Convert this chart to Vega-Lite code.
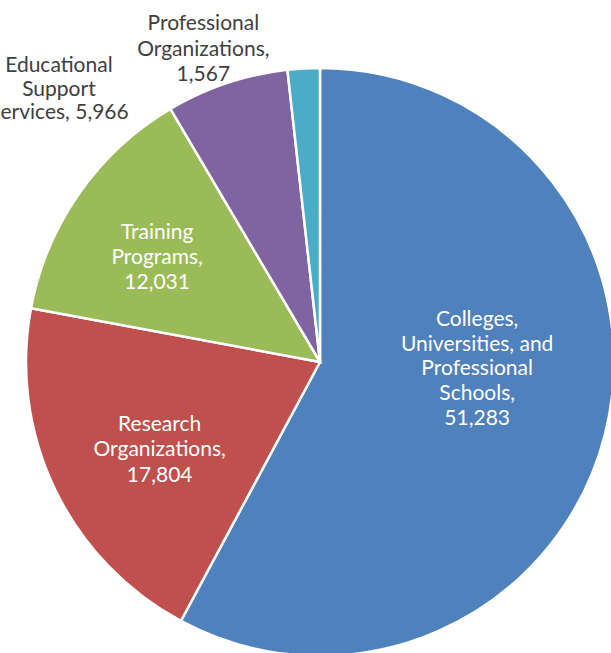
{
  "$schema": "https://vega.github.io/schema/vega-lite/v6.json",
  "width": 640,
  "height": 724,
  "padding": 0,
  "autosize": {"type": "none"},
  "background": "white",
  "config": {"view": {"stroke": null}},
  "data": {
    "values": [
      {"category": "Colleges, Universities, and Professional Schools", "value": 51283, "label": "Colleges,|Universities, and|Professional|Schools,|51,283"},
      {"category": "Research Organizations", "value": 17804, "label": "Research|Organizations,|17,804"},
      {"category": "Training Programs", "value": 12031, "label": "Training|Programs,|12,031"},
      {"category": "Educational Support Services", "value": 5966, "label": "Educational|Support|Services, 5,966"},
      {"category": "Professional Organizations", "value": 1567, "label": "Professional|Organizations,|1,567"}
    ]
  },
  "encoding": {
    "theta": {"field": "value", "type": "quantitative", "stack": true},
    "order": {"field": "value", "type": "quantitative", "sort": "descending"}
  },
  "layer": [
    {
      "mark": {"type": "arc", "outerRadius": 294, "stroke": "white", "strokeWidth": 2.5},
      "encoding": {
        "color": {
          "field": "category",
          "type": "nominal",
          "legend": null,
          "scale": {
            "domain": ["Colleges, Universities, and Professional Schools", "Research Organizations", "Training Programs", "Educational Support Services", "Professional Organizations"],
            "range": ["#4F81BD", "#C0504D", "#9BBB59", "#8064A2", "#4BACC6"]
          }
        }
      }
    },
    {
      "mark": {"type": "text", "radius": 160, "dx": 2, "dy": -81, "font": "Lato", "fontSize": 21, "lineHeight": 24.7, "lineBreak": "|", "fill": "white", "align": "center", "baseline": "middle"},
      "encoding": {"text": {"condition": {"test": "datum.value === 51283", "field": "label"}, "value": ""}}
    },
    {
      "mark": {"type": "text", "radius": 180, "dx": 2, "dy": -15, "font": "Lato", "fontSize": 21, "lineHeight": 25.5, "lineBreak": "|", "fill": "white", "align": "center", "baseline": "middle"},
      "encoding": {"text": {"condition": {"test": "datum.value === 17804", "field": "label"}, "value": ""}}
    },
    {
      "mark": {"type": "text", "radius": 200, "dx": 1, "dy": -14, "font": "Lato", "fontSize": 21, "lineHeight": 25, "lineBreak": "|", "fill": "white", "align": "center", "baseline": "middle"},
      "encoding": {"text": {"condition": {"test": "datum.value === 12031", "field": "label"}, "value": ""}}
    },
    {
      "mark": {"type": "text", "radius": 300, "dx": -166, "dy": -11, "font": "Lato", "fontSize": 21, "lineHeight": 23.5, "lineBreak": "|", "fill": "#404040", "align": "center", "baseline": "middle"},
      "encoding": {"text": {"condition": {"test": "datum.value === 5966", "field": "label"}, "value": ""}}
    },
    {
      "mark": {"type": "text", "radius": 300, "dx": -100, "dy": -38, "font": "Lato", "fontSize": 21, "lineHeight": 25.5, "lineBreak": "|", "fill": "#404040", "align": "center", "baseline": "middle"},
      "encoding": {"text": {"condition": {"test": "datum.value === 1567", "field": "label"}, "value": ""}}
    }
  ]
}
